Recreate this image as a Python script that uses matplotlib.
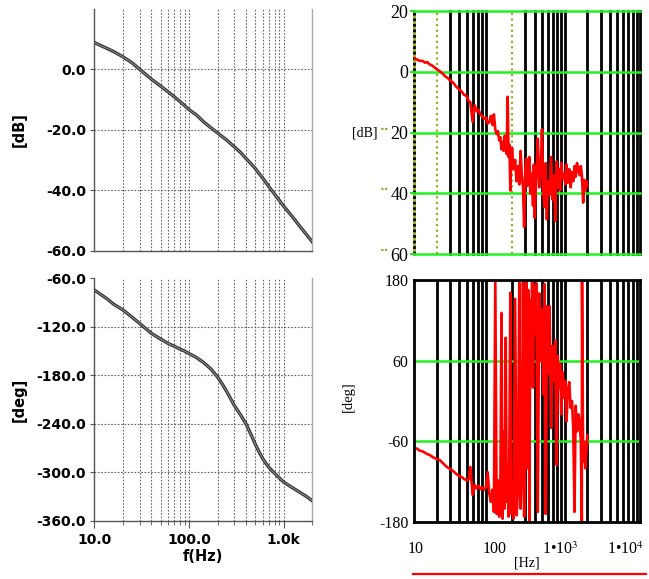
import matplotlib
matplotlib.use('Agg')
import matplotlib.pyplot as plt
from matplotlib.lines import Line2D
from matplotlib.ticker import NullLocator, FixedLocator, NullFormatter
import matplotlib.transforms as mtransforms

plt.rcParams['mathtext.fontset'] = 'stix'

# ---------------- left: simulated Bode data ----------------
f_sim = [10, 13.5, 16, 20, 25, 30, 40, 50, 60, 70, 80, 90, 100, 120, 142, 170,
         200, 225, 250, 300, 350, 400, 450, 500, 550, 600, 650, 700, 800, 900,
         1000, 1200, 1500, 1700, 2000]
mag_sim = [8.9, 7.0, 5.9, 4.2, 2.2, 0.1, -3.2, -5.5, -7.4, -9.1, -10.6, -12.0,
           -13.3, -15.1, -17.3, -19.3, -21.0, -22.3, -23.4, -25.6, -27.5, -29.5,
           -31.2, -32.8, -34.5, -36.0, -37.5, -38.9, -41.3, -43.4, -45.3, -48.3,
           -52.2, -54.3, -57.1]
ph_sim = [-74.5, -85, -92, -99, -108, -115.7, -128, -135, -140.5, -144, -147.5,
          -150, -153, -158, -164, -172, -182, -191, -200, -217, -229, -240,
          -253, -265, -275, -283, -289, -294, -301, -307, -312, -318, -325,
          -329, -335]

# ---------------- right: measured data ----------------
f_meas = [10, 11, 12, 13, 14, 15, 16, 17, 18, 20,
          22, 24, 26, 28, 30, 33, 36, 40, 43, 46,
          50, 53, 56, 60, 64, 68, 72, 76, 80, 85,
          90, 95, 100, 105, 110, 115, 120, 125, 130, 135,
          140, 145, 150, 155, 160, 165, 170, 175, 180, 185,
          190, 195, 200, 210, 220, 230, 240, 250, 260, 270,
          280, 290, 300, 310, 320, 330, 340, 350, 360, 370,
          380, 390, 400, 420, 440, 460, 480, 500, 520, 540,
          560, 580, 600, 630, 660, 690, 720, 750, 780, 810,
          840, 870, 900, 940, 980, 1020, 1060, 1100, 1150, 1200,
          1250, 1300, 1350, 1400, 1460, 1520, 1580, 1640, 1690, 1700,
          1760, 1820, 1880, 1940, 2000]
mag_meas = [4.5, 4.0, 3.6, 3.6, 3.0, 3.2, 2.5, 2.2, 1.8, 0.9,
            0.2, -0.6, -1.5, -2.0, -2.8, -3.5, -4.8, -5.8, -6.5, -7.5,
            -8.0, -9.5, -10.0, -16.5, -11.0, -13.0, -12.5, -14.0, -14.5, -15.5,
            -15.0, -17.0, -16.5, -14.5, -17.5, -14.0, -19.0, -20.5, -19.5, -22.5,
            -21.5, -25.5, -23.0, -26.0, -21.0, -25.0, -27.0, -8.2, -28.0, -24.0,
            -39.0, -30.0, -25.0, -32.0, -29.0, -36.0, -31.0, -37.0, -26.0, -34.0,
            -38.0, -51.0, -32.0, -28.5, -37.5, -31.0, -28.0, -40.0, -33.5, -36.0,
            -44.0, -30.5, -48.0, -34.0, -22.0, -38.0, -33.0, -18.9, -40.0, -44.5,
            -30.0, -48.5, -36.0, -40.5, -28.0, -42.0, -34.0, -49.0, -29.5, -38.0,
            -32.0, -39.0, -30.0, -35.0, -33.5, -37.0, -30.5, -36.5, -32.0, -38.0,
            -33.0, -36.0, -31.0, -34.5, -30.0, -32.5, -34.0, -31.0, -34.0, -35.0,
            -43.0, -35.5, -39.0, -36.0, -37.5]
ph_meas = [-70, -71, -74, -75, -77, -79, -80, -82, -84, -86,
           -88, -92, -96, -99, -101, -104, -108, -112, -113, -116,
           -118, -117, -98, -140, -125, -130, -126, -131, -128, -132,
           -129, -106, -138, -150, -132, -165, 178, -168, -118, -172,
           -135, 131, -175, -45, -160, 94, -150, -95, -172, -60,
           161, -168, -120, -175, 152, -170, -130, 176, -160, -110,
           178, -172, 120, 178, -100, 165, -178, 150, 70, 178,
           20, 170, 100, 175, -165, 160, 60, 137, 10, 174,
           -168, 141, 40, 141, -40, 82, 30, 90, -95, 67,
           20, 55, -20, 43, 5, 30, -30, 15, 28, -10,
           0, -40, -165, -7, -45, -20, -31, -60, -180, 180,
           -90, -61, -100, -75, -51]

# grid / marker lines
left_vgrid = [20, 30, 40, 50, 60, 70, 80, 90, 100, 200, 300, 400, 500, 600,
              700, 800, 900, 1000]
mag_ticks = [0, -20, -40, -60]
mag_ticklabels = ['0.0', '-20.0', '-40.0', '-60.0']
ph_ticks = [-60, -120, -180, -240, -300, -360]
ph_ticklabels = ['-60.0', '-120.0', '-180.0', '-240.0', '-300.0', '-360.0']
left_xticks = [10, 100, 1000]
left_xticklabels = ['10.0', '100.0', '1.0k']

black_top = [30, 40, 50, 60, 70, 80, 90, 300, 400, 500, 600, 700, 800, 900,
             1000, 2000, 3000, 4000, 5000, 6000, 7000, 8000, 9000, 10000]
olive_top = [20, 200]
black_bot = [20, 30, 40, 50, 60, 70, 80, 90, 200, 300, 400, 500, 600, 700,
             800, 900, 1000, 2000, 3000, 4000, 5000, 6000, 7000, 8000, 9000]
green_top = [20, 0, -20, -40, -60]
top_r_ticklabels = ['20', '0', '20', '40', '60']
green_bot = [60, -60]
bot_r_ticks = [180, 60, -60, -180]
bot_r_ticklabels = ['180', '60', '-60', '-180']
right_xticks = [10, 100, 1000, 10000]
right_xticklabels = ['10', '100', '1\u202210$^{3}$', '1\u202210$^{4}$']

GREEN = '#22ee22'
OLIVE = '#9aab2a'

fig = plt.figure(figsize=(6.49, 5.79), dpi=100)

bold = dict(fontfamily='DejaVu Sans', fontweight='bold', fontsize=10)
serif = 'Liberation Serif'


def left_axes(rect, ylim):
    ax = fig.add_axes(rect)
    ax.set_xscale('log')
    ax.set_xlim(10, 2000)
    ax.set_ylim(*ylim)
    ax.spines['top'].set_visible(False)
    ax.spines['right'].set_color('#aaaaaa')
    ax.spines['left'].set_color('#555555')
    ax.spines['bottom'].set_color('#555555')
    for s in ax.spines.values():
        s.set_linewidth(1.0)
    for f in left_vgrid:
        ax.axvline(f, color='#666666', lw=0.8, ls=(0, (1.5, 1.5)), zorder=1)
    return ax


# ---- top left ----
ax1 = left_axes([94.3 / 649, 1 - 250.7 / 579, 218 / 649, 241.7 / 579], (-60, 20))
for v in [0, -20, -40]:
    ax1.axhline(v, color='#666666', lw=0.8, ls=(0, (1.5, 1.5)), zorder=1)
ax1.plot(f_sim, mag_sim, color='#333333', lw=2.4, zorder=3)
ax1.plot(f_sim, mag_sim, color='#a0a0a0', lw=0.6, zorder=4)
ax1.set_yticks(mag_ticks)
ax1.set_yticklabels(mag_ticklabels, **bold)
ax1.xaxis.set_major_locator(NullLocator())
ax1.xaxis.set_minor_locator(NullLocator())
ax1.tick_params(axis='y', direction='out', length=3, color='#555555', pad=3)
ax1.set_ylabel('[dB]', fontfamily='DejaVu Sans', fontweight='bold', fontsize=10.5)
ax1.yaxis.set_label_coords(-0.31, 0.5)

# ---- bottom left ----
ax2 = left_axes([94.3 / 649, 1 - 521 / 579, 218 / 649, 242.7 / 579], (-360, -60))
for v in [-120, -180, -240, -300]:
    ax2.axhline(v, color='#666666', lw=0.8, ls=(0, (1.5, 1.5)), zorder=1)
ax2.plot(f_sim, ph_sim, color='#333333', lw=2.4, zorder=3)
ax2.plot(f_sim, ph_sim, color='#a0a0a0', lw=0.6, zorder=4)
ax2.set_yticks(ph_ticks)
ax2.set_yticklabels(ph_ticklabels, **bold)
ax2.set_xticks(left_xticks)
ax2.set_xticklabels(left_xticklabels, **bold)
ax2.xaxis.set_minor_locator(FixedLocator([20, 30, 40, 50, 60, 70, 80, 90, 200, 300,
                                          400, 500, 600, 700, 800, 900, 2000]))
ax2.xaxis.set_minor_formatter(NullFormatter())
ax2.tick_params(axis='y', direction='out', length=3, color='#555555', pad=3)
ax2.tick_params(axis='x', which='major', direction='out', length=5, color='#555555', pad=4)
ax2.tick_params(axis='x', which='minor', direction='out', length=3, color='#555555')
ax2.set_xlabel('f(Hz)', fontfamily='DejaVu Sans', fontweight='bold', fontsize=10.5, labelpad=1)
ax2.set_ylabel('[deg]', fontfamily='DejaVu Sans', fontweight='bold', fontsize=10.5)
ax2.yaxis.set_label_coords(-0.31, 0.5)

# ---- top right ----
ax3 = fig.add_axes([414 / 649, 1 - 254.3 / 579, 226 / 649, 243.3 / 579])
ax3.set_xscale('log')
ax3.set_xlim(10, 10000)
ax3.set_ylim(-60, 20)
for s in ax3.spines.values():
    s.set_visible(False)
for f in black_top:
    ax3.axvline(f, color='black', lw=2.0, zorder=1, clip_on=False)
for f in olive_top:
    ax3.axvline(f, color=OLIVE, lw=1.6, ls=(0, (1, 1.5)), zorder=1)
ax3.axvline(10, color=OLIVE, lw=2.0, zorder=1, clip_on=False)
ax3.axvline(10, color='black', lw=2.0, ls=(0, (1, 1)), zorder=1.1, clip_on=False)
for v in green_top:
    ax3.axhline(v, color=GREEN, lw=1.8, zorder=2, clip_on=False)
ax3.plot(f_meas, mag_meas, color='red', lw=1.9, zorder=3)
ax3.set_yticks(green_top)
ax3.set_yticklabels(top_r_ticklabels, fontfamily=serif, fontsize=13)
ax3.tick_params(axis='y', length=3, color=GREEN, width=1.5, pad=1)
ax3.xaxis.set_major_locator(NullLocator())
ax3.xaxis.set_minor_locator(NullLocator())
blend3 = mtransforms.blended_transform_factory(ax3.transAxes, ax3.transData)
for v in [-20, -40, -60]:
    ax3.text(-0.108, v + 1.2, '\u00b7\u00b7', transform=blend3, ha='right', va='center',
             color=OLIVE, fontsize=9, fontweight='bold', fontfamily='DejaVu Sans')
ax3.text(-0.22, -20, '[dB]', transform=blend3, ha='center', va='center',
         fontfamily=serif, fontsize=10)

# ---- bottom right ----
ax4 = fig.add_axes([414 / 649, 1 - 522 / 579, 226 / 649, 242 / 579])
ax4.set_xscale('log')
ax4.set_xlim(10, 10000)
ax4.set_ylim(-180, 180)
for f in black_bot:
    ax4.axvline(f, color='black', lw=2.0, zorder=1)
for v in green_bot:
    ax4.axhline(v, color=GREEN, lw=1.8, zorder=2)
ax4.plot(f_meas, ph_meas, color='red', lw=1.9, zorder=3)
for s in ax4.spines.values():
    s.set_color('black')
    s.set_linewidth(2.0)
    s.set_zorder(4)
ax4.set_yticks(bot_r_ticks)
ax4.set_yticklabels(bot_r_ticklabels, fontfamily=serif, fontsize=11.5)
ax4.set_xticks(right_xticks)
ax4.set_xticklabels(right_xticklabels, fontfamily=serif, fontsize=11.5)
ax4.xaxis.set_minor_locator(NullLocator())
ax4.tick_params(axis='both', length=0)
ax4.tick_params(axis='x', pad=14)
ax4.tick_params(axis='y', pad=4)
# small horizontal shifts of the Mathcad-style x labels (pixels)
for lab, dx in zip(ax4.get_xticklabels(), [2, 5, -4, -14]):
    lab.set_transform(lab.get_transform() +
                      mtransforms.ScaledTranslation(dx / 100, 0, fig.dpi_scale_trans))
ax4.text(0.5, -0.168, '[Hz]', transform=ax4.transAxes, ha='center', va='center',
         fontfamily=serif, fontsize=10)
ax4.set_ylabel('[deg]', fontfamily=serif, fontsize=10.5)
ax4.yaxis.set_label_coords(-0.26, 0.52)

fig.add_artist(Line2D([413 / 649, 646 / 649], [1 - 574.3 / 579, 1 - 574.3 / 579],
                      color='red', lw=1.6, transform=fig.transFigure))

fig.savefig('out.png', dpi=100)
